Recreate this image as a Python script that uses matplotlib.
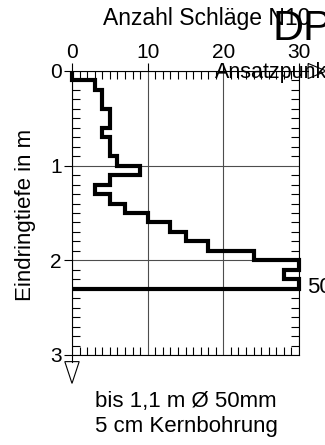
import numpy as np
import matplotlib.pyplot as plt
from matplotlib.patches import Polygon
from matplotlib.ticker import MultipleLocator

plt.rcParams['font.family'] = ['Liberation Sans', 'DejaVu Sans']

# Rammsondierung: Schlagzahl N10 je 10 cm Eindringung
tiefe = [0.0, 0.1, 0.2, 0.3, 0.4, 0.5, 0.6, 0.7, 0.8, 0.9, 1.0, 1.1,
         1.2, 1.3, 1.4, 1.5, 1.6, 1.7, 1.8, 1.9, 2.0, 2.1, 2.2, 2.3]
n10 = [0, 3, 4, 4, 5, 5, 4, 5, 5, 6, 9, 5, 3, 5, 7, 10, 13, 15, 18, 24, 30, 28, 30]

x_ticks = [0, 10, 20, 30]
y_ticks = [0, 1, 2, 3]

fig = plt.figure(figsize=(3.25, 4.45), dpi=100)
ax = fig.add_axes([72/325, 1-355/445, 227/325, 284/445])

ax.stairs(n10, tiefe, orientation='horizontal', baseline=0, color='black',
          lw=3, joinstyle='miter', clip_on=False, zorder=5)

ax.set_xlim(0, 30)
ax.set_ylim(3, 0)
ax.xaxis.tick_top()
ax.set_xticks(x_ticks)
ax.set_yticks(y_ticks)
ax.xaxis.set_minor_locator(MultipleLocator(1))
ax.yaxis.set_minor_locator(MultipleLocator(0.1))
ax.tick_params(axis='x', which='major', direction='out', length=5.5, width=0.8,
               top=True, bottom=False, labelsize=15, pad=1)
ax.tick_params(axis='x', which='minor', direction='in', length=6, width=0.8,
               top=True, bottom=True)
ax.tick_params(axis='y', which='major', direction='out', length=5.5, width=0.8,
               left=True, right=False, labelsize=15, pad=2)
ax.tick_params(axis='y', which='minor', direction='in', length=5.5, width=0.8,
               left=True, right=True)
ax.grid(True, which='major', color='0.3', lw=0.8)
for s in ax.spines.values():
    s.set_linewidth(0.8)

# Ansatzpunkt
ax.plot([30, 31.2], [0, 0], color='black', lw=0.8, clip_on=False)
ax.add_patch(Polygon([[31.2, -0.08], [31.2, 0.08], [33.6, 0]], closed=True,
                     fill=False, ec='black', lw=0.8, clip_on=False))
# Endtiefe
ax.plot([0, 0], [3, 3.07], color='black', lw=0.8, clip_on=False)
ax.add_patch(Polygon([[-0.95, 3.07], [0.95, 3.07], [0, 3.3]], closed=True,
                     fill=False, ec='black', lw=0.8, clip_on=False))

fig.text(103/325, 1-25/445, 'Anzahl Schläge N10', fontsize=16.5, va='baseline')
fig.text(273/325, 1-40/445, 'DP', fontsize=31, va='baseline')
fig.text(215/325, 1-78/445, 'Ansatzpunkt', fontsize=15.5, va='baseline')
fig.text(307/325, 1-293/445, '50', fontsize=16, va='baseline')
fig.text(26/325, 1-215/445, 'Eindringtiefe in m', rotation=90,
         ha='center', va='center', fontsize=16)
fig.text(186/325, 1-406.7/445, 'bis 1,1 m Ø 50mm', ha='center', va='baseline', fontsize=16)
fig.text(186/325, 1-431.7/445, '5 cm Kernbohrung', ha='center', va='baseline', fontsize=16)

fig.savefig('out.png', dpi=100)
